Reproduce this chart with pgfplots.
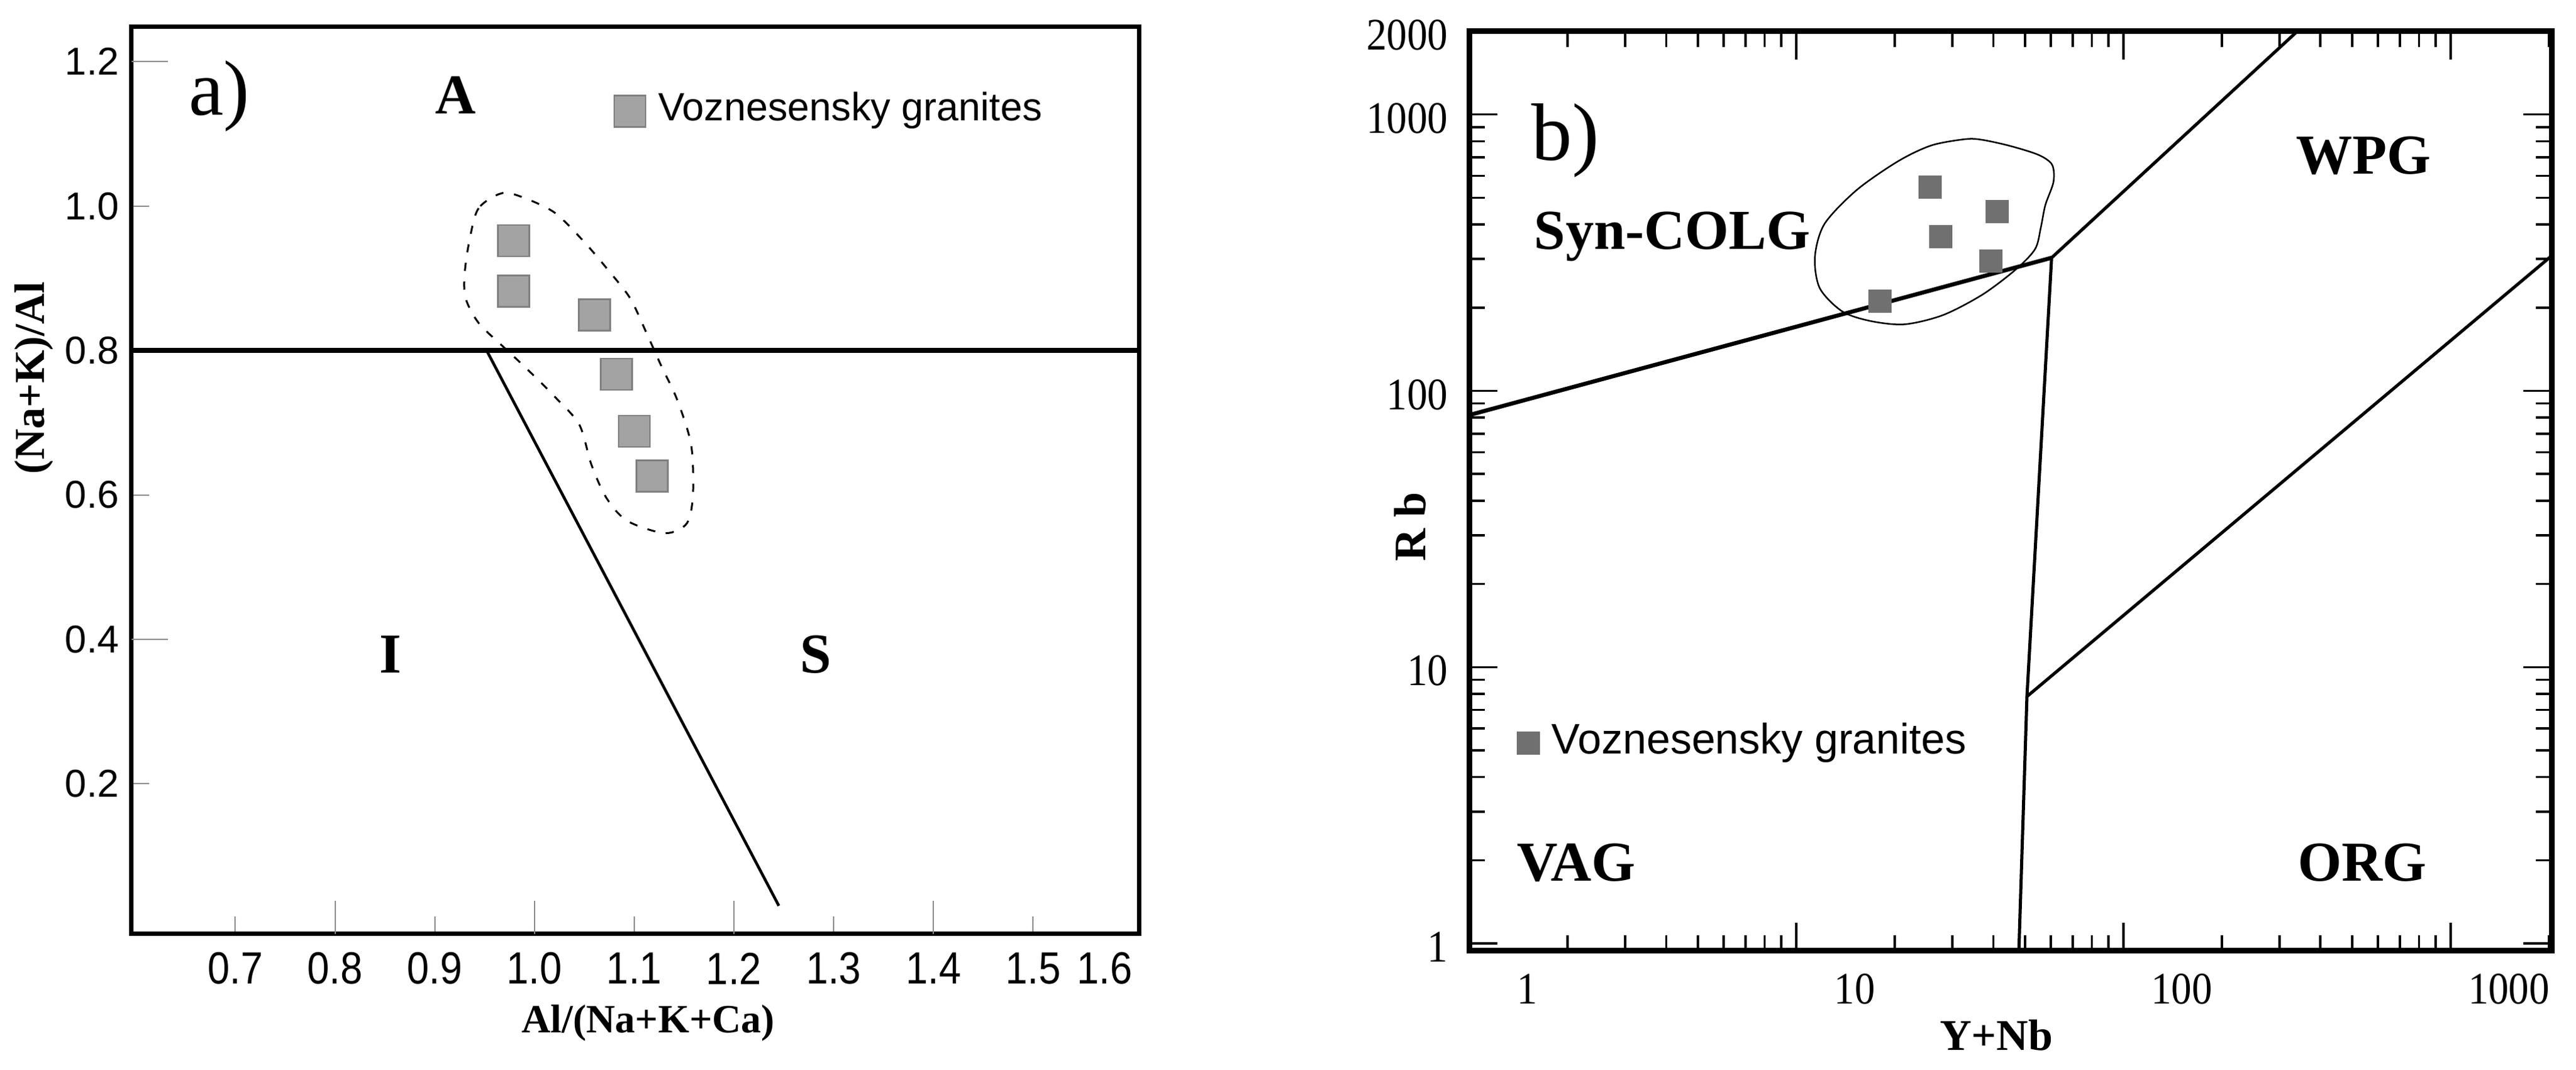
\documentclass[border=0pt]{standalone}
\usepackage{fontspec}
\setmainfont{Liberation Serif}
\newfontfamily\arial{Liberation Sans}
\newfontfamily\arialn[FakeStretch=0.88]{Liberation Sans}
\newfontfamily\timesn[FakeStretch=0.9]{Liberation Serif}
\usepackage{pgfplots}
\pgfplotsset{compat=1.18}
\definecolor{sqa}{HTML}{A3A3A3}
\definecolor{sqaedge}{HTML}{808080}
\definecolor{sqb}{HTML}{707070}
\definecolor{tickgray}{HTML}{8C8C8C}
\newcommand\fs[1]{\fontsize{#1}{#1}\selectfont}

\begin{document}
\begin{tikzpicture}
\useasboundingbox (0,0) rectangle (411pt,170.7pt);

% a) Al/(Na+K+Ca) vs (Na+K)/Al
\begin{axis}[
  at={(21pt,21.7pt)}, anchor=south west, scale only axis,
  width=160.7pt, height=144.7pt,
  xmin=0.596, xmax=1.606, ymin=-0.008, ymax=1.248,
  clip mode=individual,
  axis line style={line width=0.7pt},
  tick align=inside, xtick pos=bottom, ytick pos=left,
  /pgf/number format/assume math mode=true,
  xtick={0.7,0.9,1.1,1.3,1.5}, xticklabels={0.7,0.9,1.1,1.3,1.5},
  extra x ticks={0.8,1.0,1.2,1.4}, extra x tick labels={0.8,1.0,1.2,1.4},
  ytick={0.2,0.6,1.0}, yticklabels={0.2,0.6,1.0},
  extra y ticks={0.4,0.8,1.2}, extra y tick labels={0.4,0.8,1.2},
  major tick length=2.8pt,
  extra x tick style={major tick length=5.3pt},
  extra y tick style={major tick length=5.8pt},
  every tick/.style={tickgray, line width=0.2pt},
  xticklabel style={font=\arialn\fs{7.2}, anchor=center, yshift=-5.5pt},
  yticklabel style={font=\arial\fs{6.2}, anchor=east, inner sep=0pt, xshift=-1.8pt},
  xlabel={Al/(Na+K+Ca)},
  xlabel style={at={(axis description cs:0.513,-0.098)}, anchor=center, font=\fs{6.4}\bfseries},
  ylabel={(Na+K)/Al},
  ylabel style={at={(axis description cs:-0.097,0.613)}, anchor=center, font=\fs{6.8}\bfseries},
  legend style={at={(axis description cs:0.478,0.907)}, anchor=west, draw=none, fill=none,
    inner sep=0pt, font=\arial\fs{6.3}},
  legend image code/.code={\draw[mark repeat=2,mark phase=2,#1] plot coordinates {(0pt,0pt) (2.5pt,0pt) (5pt,0pt)};},
]
\addplot[black, line width=0.75pt, forget plot] coordinates {(0.596,0.8) (1.606,0.8)};
\addplot[black, line width=0.45pt, forget plot] coordinates {(0.952,0.8) (1.245,0.031)};
\addplot[black, line width=0.3pt, dash pattern=on 1.3pt off 1.7pt, smooth cycle, forget plot] coordinates {
  (0.968,1.018) (0.944,0.997) (0.935,0.954) (0.930,0.907) (0.931,0.872) (0.944,0.838)
  (0.968,0.806) (0.992,0.775) (1.021,0.735) (1.045,0.697) (1.057,0.642) (1.072,0.596)
  (1.093,0.564) (1.131,0.547) (1.153,0.561) (1.159,0.603) (1.157,0.670) (1.143,0.732)
  (1.127,0.779) (1.113,0.822) (1.096,0.872) (1.074,0.911) (1.050,0.950) (1.021,0.990)
  (0.992,1.010)};
\addplot[only marks, mark=square*, mark size=2.5pt,
  mark options={fill=sqa, draw=sqaedge, line width=0.25pt}]
  coordinates {(0.979,0.952) (0.979,0.882) (1.060,0.849) (1.082,0.767) (1.100,0.688) (1.118,0.626)};
\addlegendentry{Voznesensky granites}
\node[font=\arialn\fs{7.2}] at (axis description cs:0.966,-0.038) {1.6};
\node[font=\fs{12.5}, anchor=base] at (axis description cs:0.087,0.903) {a)};
\node[font=\fs{9}\bfseries, anchor=base] at (axis description cs:0.322,0.904) {A};
\node[font=\fs{9}\bfseries, anchor=base] at (axis description cs:0.257,0.288) {I};
\node[font=\fs{9}\bfseries, anchor=base] at (axis description cs:0.679,0.288) {S};
\end{axis}

% b) Y+Nb vs Rb
\begin{axis}[
  at={(234.4pt,19.0pt)}, anchor=south west, scale only axis,
  width=172.7pt, height=146.7pt,
  xmode=log, ymode=log,
  xmin=1, xmax=2036, ymin=0.94, ymax=2000,
  clip mode=individual,
  axis line style={line width=0.9pt},
  tick align=inside,
  /pgf/number format/assume math mode=true,
  xtick={1,10,100,1000}, xticklabels={1,10,100,1000},
  minor xtick={2,3,4,5,6,7,8,9,20,30,40,50,60,70,80,90,200,300,400,500,600,700,800,900,2000},
  ytick={1,10,100,1000,2000}, yticklabels={1,10,100,1000,2000},
  minor ytick={2,3,4,5,6,7,8,9,20,30,40,50,60,70,80,90,200,300,400,500,600,700,800,900},
  major tick length=4.5pt, minor tick length=2.5pt,
  every tick/.style={black, line width=0.35pt},
  xticklabel style={font=\timesn\fs{7.2}, anchor=center, yshift=-6.1pt, xshift=9.3pt},
  yticklabel style={font=\timesn\fs{7.2}, anchor=east, inner sep=0pt, xshift=-3.2pt, yshift=-0.6pt},
  xlabel={Y+Nb},
  xlabel style={at={(axis description cs:0.487,-0.092)}, anchor=center, font=\fs{7}\bfseries},
  ylabel={R b},
  ylabel style={at={(axis description cs:-0.0545,0.461)}, anchor=center, font=\fs{7.2}\bfseries},
  legend style={at={(axis description cs:0.0434,0.226)}, anchor=west, draw=none, fill=none,
    inner sep=0pt, font=\arial\fs{6.8}},
  legend image code/.code={\draw[mark repeat=2,mark phase=2,#1] plot coordinates {(0pt,0pt) (1.75pt,0pt) (3.5pt,0pt)};},
]
\addplot[black, line width=0.65pt, forget plot] coordinates {(1,81.7) (60.3,303)};
\addplot[black, line width=0.5pt, forget plot] coordinates {(60.3,303) (340,2000)};
\addplot[black, line width=0.5pt, forget plot] coordinates {(60.3,303) (50.7,7.83) (47.9,0.94)};
\addplot[black, line width=0.5pt, forget plot] coordinates {(50.7,7.83) (2036,308)};
\addplot[black, line width=0.25pt, smooth cycle, forget plot] coordinates {
  (32.9,814) (25.9,773) (20.5,678) (15.3,533) (12.2,402) (11.4,305) (11.8,235)
  (13.8,194) (16.8,179) (21.4,174) (28.1,188) (37.1,223) (46.9,275) (53.7,326)
  (55.9,390) (57.7,470) (61.1,570) (60.5,658) (55.0,714) (45.1,769) (37.1,809)};
\addplot[only marks, mark=square*, mark size=1.75pt,
  mark options={fill=sqb, draw=sqb, line width=0.2pt}]
  coordinates {(25.7,547) (41.1,446) (27.6,362) (39.4,295) (18.0,211)};
\addlegendentry{Voznesensky granites}
\node[font=\fs{13}, anchor=base] at (axis description cs:0.089,0.860) {b)};
\node[font=\fs{9}\bfseries, anchor=base] at (axis description cs:0.1876,0.763) {Syn-COLG};
\node[font=\fs{9}\bfseries, anchor=base] at (axis description cs:0.826,0.845) {WPG};
\node[font=\fs{9}\bfseries, anchor=base] at (axis description cs:0.099,0.0763) {VAG};
\node[font=\fs{9}\bfseries, anchor=base] at (axis description cs:0.825,0.0763) {ORG};
\end{axis}
\end{tikzpicture}
\end{document}
